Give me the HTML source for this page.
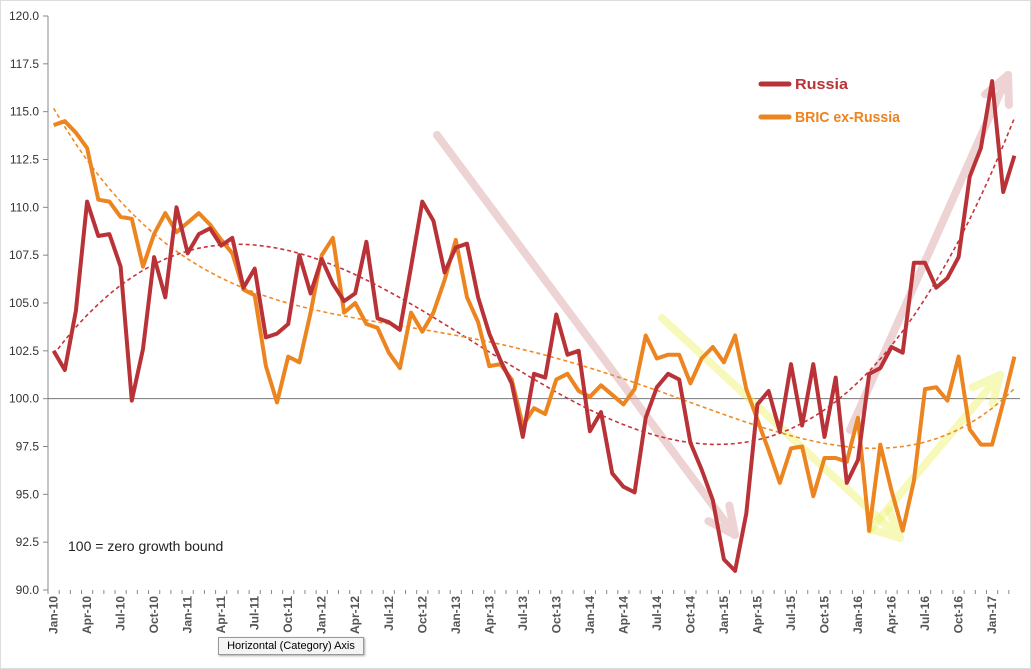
<!DOCTYPE html>
<html><head><meta charset="utf-8"><style>
html,body{margin:0;padding:0;background:#fff;}
body{width:1031px;height:669px;overflow:hidden;font-family:"Liberation Sans",sans-serif;}
#tip{position:absolute;left:218px;top:637px;width:144px;height:16px;border:1px solid #999;background:#f4f4f4;font-size:11px;line-height:16px;text-align:center;color:#000;box-shadow:1px 1px 2px #aaa;}
</style></head><body>
<svg id="chart" width="1031" height="669" style="position:absolute;left:0;top:0">
<rect x="0.5" y="0.5" width="1030" height="668" fill="#fff" stroke="#ddd"/>
<g id="g"></g>
</svg>
<div id="tip">Horizontal (Category) Axis</div>
<script>
const russia=[102.5,101.5,104.6,110.3,108.5,108.6,106.9,99.9,102.6,107.4,105.3,110.0,107.6,108.6,108.9,108.0,108.4,105.8,106.8,103.2,103.4,103.9,107.5,105.5,107.3,106.0,105.1,105.5,108.2,104.2,104.0,103.6,106.9,110.3,109.3,106.6,107.9,108.1,105.3,103.4,102.0,100.8,98.0,101.3,101.1,104.4,102.3,102.5,98.3,99.3,96.1,95.4,95.1,99.0,100.6,101.3,101.0,97.7,96.3,94.7,91.6,91.0,94.0,99.7,100.4,98.3,101.8,98.6,101.8,98.0,101.1,95.6,96.8,101.3,101.6,102.7,102.4,107.1,107.1,105.8,106.3,107.4,111.6,113.1,116.6,110.8,112.7];
const bric=[114.3,114.5,113.9,113.1,110.4,110.3,109.5,109.4,106.9,108.6,109.7,108.7,109.2,109.7,109.1,108.3,107.6,105.7,105.4,101.7,99.8,102.2,101.9,104.5,107.5,108.4,104.5,105.0,103.9,103.7,102.4,101.6,104.5,103.5,104.5,106.2,108.3,105.3,104.0,101.7,101.8,101.0,98.6,99.5,99.2,101.0,101.3,100.4,100.1,100.7,100.2,99.7,100.5,103.3,102.1,102.3,102.3,100.8,102.1,102.7,101.9,103.3,100.5,98.9,97.3,95.6,97.4,97.5,94.9,96.9,96.9,96.7,99.0,93.1,97.6,95.2,93.1,95.7,100.5,100.6,99.9,102.2,98.4,97.6,97.6,99.8,102.2];
const yTicks=[90,92.5,95,97.5,100,102.5,105,107.5,110,112.5,115,117.5,120];
const monthNames=["Jan","Feb","Mar","Apr","May","Jun","Jul","Aug","Sep","Oct","Nov","Dec"];
const startYear=10;
const categories=russia.map((_,i)=>monthNames[i%12]+"-"+(startYear+Math.floor(i/12)));

const NS="http://www.w3.org/2000/svg";
const g=document.getElementById('g');
const L=48,R=1020,T=16,B=590,yMin=90,yMax=120;
const n=categories.length,band=(R-L)/n;
const X=i=>L+band*(i+0.5);
const Y=v=>B-(v-yMin)/(yMax-yMin)*(B-T);
function mk(tag,attrs,parent){const e=document.createElementNS(NS,tag);for(const k in attrs)e.setAttribute(k,attrs[k]);(parent||g).appendChild(e);return e;}

let ax=mk('line',{x1:L,y1:T,x2:L,y2:B,stroke:'#888','stroke-width':1});


yTicks.forEach(v=>{
  const t=mk('line',{x1:L-5,y1:Y(v),x2:L,y2:Y(v),stroke:'#888'});
  
  
  const tx=mk('text',{x:L-9,y:Y(v)+4,'text-anchor':'end','font-size':12,fill:'#333'});
  tx.textContent=v.toFixed(1);
  
  
});
let bl=mk('line',{x1:L,y1:Y(100),x2:R,y2:Y(100),stroke:'#777','stroke-width':1});


categories.forEach((c,i)=>{
  const tk=mk('line',{x1:X(i)-band/2,y1:B,x2:X(i)-band/2,y2:B+4,stroke:'#888'});
  
  
  if(i%3===0){
    const t=mk('text',{x:0,y:0,'text-anchor':'end','font-size':12,'font-weight':'bold',fill:'#555',transform:`translate(${X(i)+4},${B+6}) rotate(-90)`});
    t.textContent=c;
    
    
  }
});

function arrow(x1,y1,x2,y2,col,name){
  const gg=mk('g',{opacity:0.45});
  
  
  mk('line',{x1,y1,x2,y2,stroke:col,'stroke-width':8,'stroke-linecap':'round'},gg);
  const a=Math.atan2(y2-y1,x2-x1),h=30;
  [0.45,-0.45].forEach(d=>mk('line',{x1:x2,y1:y2,x2:x2-h*Math.cos(a+d),y2:y2-h*Math.sin(a+d),stroke:col,'stroke-width':8,'stroke-linecap':'round'},gg));
}
arrow(437,135,735,535,'#d9a0a0','russia-down-arrow');
arrow(850,430,1008,75,'#d9a0a0','russia-up-arrow');
arrow(662,318,900,538,'#eef36a','bric-down-arrow');
arrow(870,530,1000,375,'#eef36a','bric-up-arrow');

function polyFit(ys,deg){
  const m=deg+1,A=[...Array(m)].map(()=>Array(m+1).fill(0));
  ys.forEach((y,i)=>{const t=i/ys.length;const p=[];for(let k=0;k<m;k++)p.push(Math.pow(t,k));for(let r=0;r<m;r++){for(let c=0;c<m;c++)A[r][c]+=p[r]*p[c];A[r][m]+=p[r]*y;}});
  for(let c=0;c<m;c++){let piv=c;for(let r=c+1;r<m;r++)if(Math.abs(A[r][c])>Math.abs(A[piv][c]))piv=r;[A[c],A[piv]]=[A[piv],A[c]];
    for(let r=0;r<m;r++)if(r!==c){const f=A[r][c]/A[c][c];for(let k=c;k<=m;k++)A[r][k]-=f*A[c][k];}}
  const co=A.map((r,i)=>r[m]/r[i]);
  return ys.map((_,i)=>{const t=i/ys.length;let s=0;for(let k=0;k<m;k++)s+=co[k]*Math.pow(t,k);return s;});
}
function path(vals){return vals.map((v,i)=>(i?'L':'M')+X(i).toFixed(1)+','+Y(v).toFixed(1)).join('');}
let tr=mk('path',{d:path(polyFit(russia,3)),fill:'none',stroke:'#c8333a','stroke-width':1.6,'stroke-dasharray':'4,3'});


let tb=mk('path',{d:path(polyFit(bric,4)),fill:'none',stroke:'#f08a24','stroke-width':1.6,'stroke-dasharray':'4,3'});


let sb=mk('path',{d:path(bric),fill:'none',stroke:'#ec8420','stroke-width':4,'stroke-linejoin':'round'});


let sr=mk('path',{d:path(russia),fill:'none',stroke:'#b93238','stroke-width':4,'stroke-linejoin':'round'});



[['Russia','#b93238',84],['BRIC ex-Russia','#ec8420',117]].forEach(([lab,col,y])=>{
  const lg=mk('g',{});
  
  
  mk('line',{x1:761,y1:y,x2:789,y2:y,stroke:col,'stroke-width':5,'stroke-linecap':'round'},lg);
  const t=mk('text',{x:795,y:y+5,'font-size':15,'font-weight':'bold',fill:col,textLength:lab.length>6?105:53,lengthAdjust:'spacingAndGlyphs'},lg);
  t.textContent=lab;
});
let note=mk('text',{x:68,y:551,'font-size':14,fill:'#222'});
note.textContent='100 = zero growth bound';


</script>
</body></html>
